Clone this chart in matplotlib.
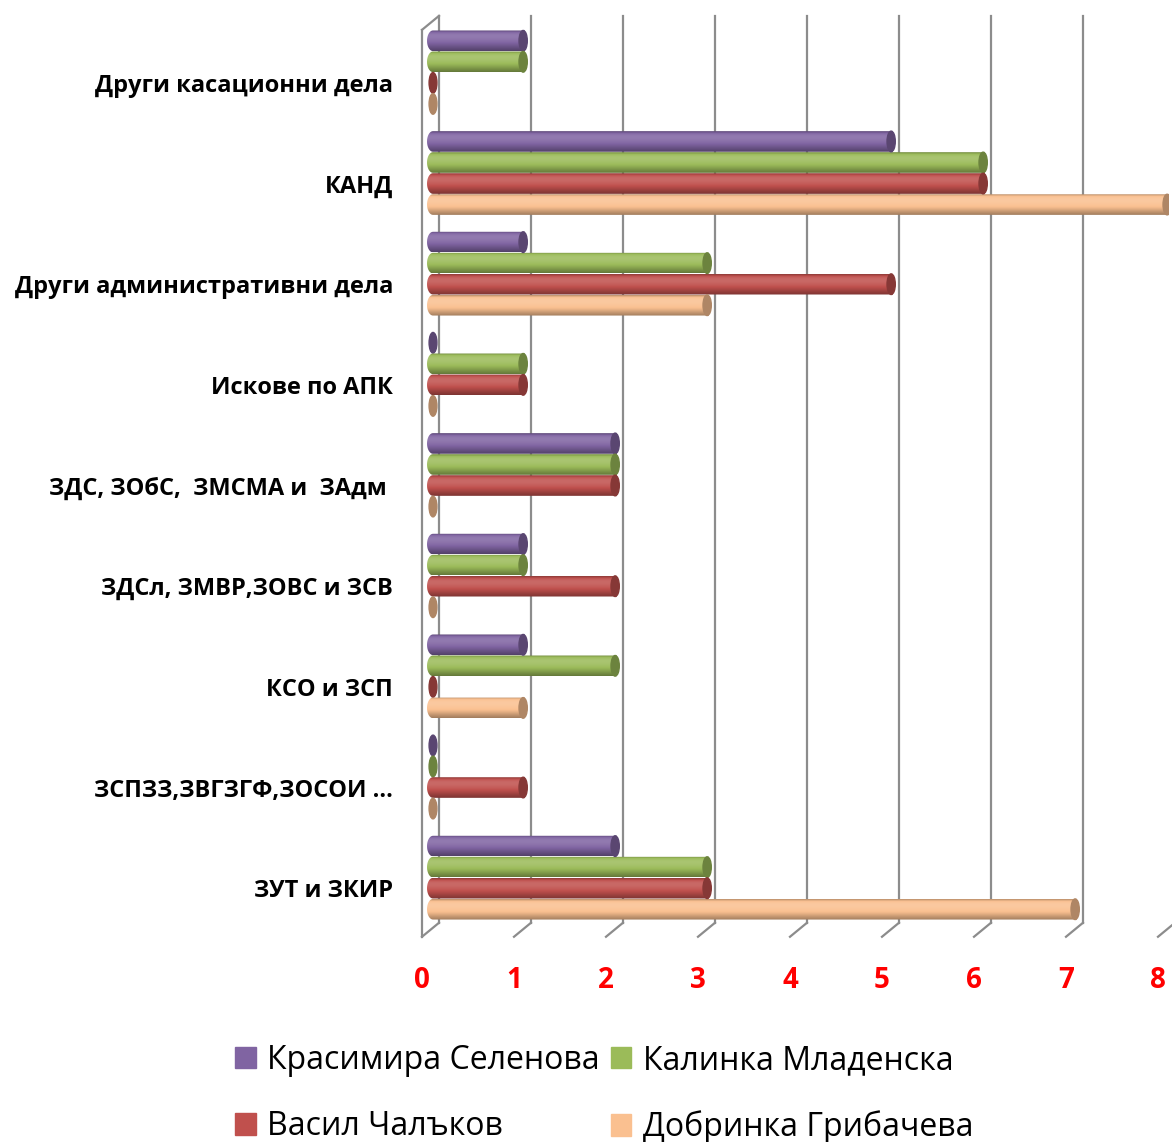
import numpy as np
import matplotlib
matplotlib.use("Agg")
import matplotlib.pyplot as plt
from matplotlib.patches import Ellipse, Patch, PathPatch
from matplotlib.path import Path
from matplotlib.colors import to_rgb

categories = ["Други касационни дела", "КАНД", "Други административни дела",
              "Искове по АПК", "ЗДС, ЗОбС,  ЗМСМА и  ЗАдм ", "ЗДСл, ЗМВР,ЗОВС и ЗСВ",
              "КСО и ЗСП", "ЗСПЗЗ,ЗВГЗГФ,ЗОСОИ ...", "ЗУТ и ЗКИР"]
series = ["Красимира Селенова", "Калинка Младенска", "Васил Чалъков", "Добринка Грибачева"]
krasimira = [1, 5, 1, 0, 2, 1, 1, 0, 2]
kalinka = [1, 6, 3, 1, 2, 1, 2, 0, 3]
vasil = [0, 6, 5, 1, 2, 2, 0, 1, 3]
dobrinka = [0, 8, 3, 0, 0, 0, 1, 0, 7]
xticks = [0, 1, 2, 3, 4, 5, 6, 7, 8]

colors = ["#8064A2", "#9BBB59", "#C0504D", "#FAC090"]
values = [krasimira, kalinka, vasil, dobrinka]

FONT = "Open Sans"
W, H = 1172, 1142
fig = plt.figure(figsize=(W / 100, H / 100), dpi=100)
# axes: x 0 at px 433, 92 px per unit; y group centres every ~100.7 px
x_lo, x_hi = -0.2, 8.0
left_px = 433 + x_lo * 92
ax = fig.add_axes([left_px / W, 1 - 928 / H, (x_hi - x_lo) * 92 / W, 906 / H])
ax.set_xlim(x_lo, x_hi)
ax.set_ylim(8.5, -0.5)
ax.axis("off")


def shade(c, f):
    r = np.array(to_rgb(c))
    if f >= 0:
        return tuple(r + (1 - r) * f)
    return tuple(r * (1 + f))


prof = np.array([-0.25, 0.05, 0.14, 0.14, 0.1, 0.04, -0.05, -0.15, -0.25, -0.35])


def cylinder(y, v, c, h=0.205):
    if v <= 0:
        ax.add_patch(Ellipse((0.0, y), 0.085, h, color=shade(c, -0.3), zorder=3))
        return
    rx = 0.065
    t = np.linspace(0, 1, len(prof))
    tt = np.linspace(0, 1, 40)
    img = np.array([[shade(c, f)] for f in np.interp(tt, t, prof)])
    # rounded left end + straight body
    ang = np.linspace(np.pi / 2, 3 * np.pi / 2, 30)
    pts = [(rx * np.cos(a), y - h / 2 * np.sin(a)) for a in ang]
    pts += [(v, y + h / 2), (v, y - h / 2), pts[0]]
    clip = PathPatch(Path(pts), transform=ax.transData, facecolor="none", edgecolor="none")
    ax.add_patch(clip)
    im = ax.imshow(img, extent=(-rx, v, y + h / 2, y - h / 2), aspect="auto",
                   interpolation="bilinear", zorder=3)
    im.set_clip_path(clip)
    ax.add_patch(Ellipse((v - 0.02, y), 0.09, h, color=shade(c, -0.3), zorder=4))


gc = "#8c8c8c"
back = 6 / 92
front = -11 / 92
y_top, y_back, y_front, y_ftop = -0.561, 8.448, 8.587, -0.422
for v in xticks:
    if v < 8:
        ax.plot([v + back, v + back], [y_top, y_back], color=gc, lw=1.6, clip_on=False, zorder=1)
    ax.plot([v + back, v + front], [y_back, y_front], color=gc, lw=1.6, clip_on=False, zorder=1)
    ax.text(v + front, 9.02, str(v), color="red", fontsize=20, fontweight="bold",
            ha="center", va="center", family=FONT)
ax.plot([front, front], [y_ftop, y_front], color=gc, lw=1.6, clip_on=False, zorder=1)
ax.plot([front, back], [y_ftop, y_top], color=gc, lw=1.6, clip_on=False, zorder=1)

for i, cat in enumerate(categories):
    for k in range(4):
        cylinder(i + (k - 1.5) * 0.209, values[k][i], colors[k])
    ax.text((393 - 433) / 92, i + 0.135, cat, ha="right", va="center",
            fontsize=17, fontweight="bold", family=FONT)

ax.set_xlim(x_lo, x_hi)
ax.set_ylim(8.5, -0.5)

order = [0, 2, 1, 3]
handles = [Patch(color=colors[k]) for k in order]
labels = [series[k] for k in order]
fig.legend(handles, labels, ncol=2, loc="center", bbox_to_anchor=(604 / W, 1 - 1094 / H),
           frameon=False, prop={"family": FONT, "size": 23}, handlelength=0.65,
           handleheight=0.65, handletextpad=0.35, columnspacing=0.35, labelspacing=1.05)

fig.savefig("out.png", dpi=100, facecolor="white")
